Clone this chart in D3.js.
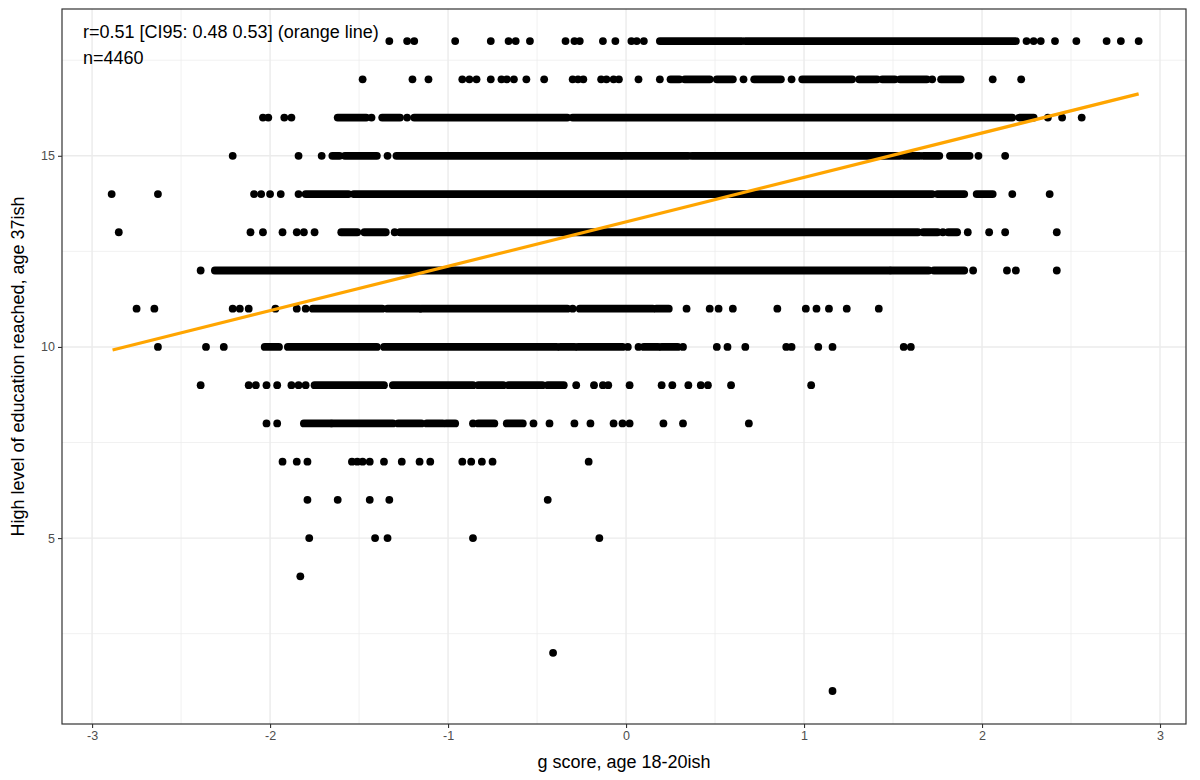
<!DOCTYPE html>
<html><head><meta charset="utf-8">
<script src="https://cdn.jsdelivr.net/npm/d3@7/dist/d3.min.js"></script>
<style>body{margin:0;background:#fff} svg{display:block}</style>
</head><body>
<svg id="chart" width="1200" height="780"></svg>
<script>
// ---- data: g score (x) of individual points, per education level (y) ----
// isolated points
const dots18 = [-1.33,-1.23,-1.19,-0.96,-0.76,-0.66,-0.62,-0.54,-0.34,-0.29,-0.26,-0.13,-0.06,0.03,0.06,0.10,2.25,2.29,2.33,2.41,2.53,2.70,2.78,2.88];
const dots17 = [-1.48,-1.20,-1.11,-0.92,-0.88,-0.84,-0.76,-0.70,-0.67,-0.63,-0.56,-0.46,-0.30,-0.27,-0.24,-0.14,-0.11,-0.07,-0.04,0.07,0.19,0.66,0.93,1.72,2.06,2.22];
const dots16 = [-2.04,-2.01,-1.92,-1.88,-1.43,-1.23,2.37,2.45,2.56];
const dots15 = [-2.21,-1.84,-1.71,-1.34,1.98,2.13];
const dots14 = [-2.89,-2.63,-2.09,-2.05,-2.00,-1.94,-1.84,2.17,2.38];
const dots13 = [-2.85,-2.11,-2.04,-1.93,-1.85,-1.81,-1.75,-1.30,1.78,1.92,2.04,2.13,2.42];
const dots12 = [-2.39,1.95,2.14,2.19,2.42];
const dots11 = [-2.75,-2.65,-2.21,-2.17,-2.12,-1.97,-1.85,-1.80,-0.30,0.34,0.47,0.52,0.60,0.85,1.01,1.07,1.14,1.24,1.42];
const dots10 = [-2.63,-2.36,-2.26,0.01,0.07,0.32,0.51,0.57,0.67,0.90,0.93,1.08,1.16,1.56,1.60];
const dots9  = [-2.39,-2.12,-2.08,-2.02,-1.96,-1.88,-1.84,-1.80,-0.28,-0.18,-0.13,-0.10,0.02,0.20,0.26,0.35,0.42,0.46,0.59,1.04];
const dots8  = [-2.02,-1.96,-0.86,-0.52,-0.43,-0.29,-0.20,-0.07,-0.02,0.02,0.21,0.32,0.69];
const dots7  = [-1.93,-1.85,-1.79,-1.54,-1.51,-1.48,-1.44,-1.36,-1.26,-1.16,-1.10,-0.92,-0.87,-0.81,-0.75,-0.21];
const dots6  = [-1.79,-1.62,-1.44,-1.33,-0.44];
const dots5  = [-1.78,-1.41,-1.34,-0.86,-0.15];
const dots4  = [-1.83];
const dots2  = [-0.41];
const dots1  = [1.16];
// runs of overlapping points (from, to)
const runs18 = [[0.19,0.65],[0.67,2.19]];
const runs17 = [[0.25,0.30],[0.33,0.47],[0.51,0.60],[0.72,0.87],[0.99,1.27],[1.31,1.41],[1.44,1.51],[1.54,1.69],[1.77,1.88]];
const runs16 = [[-1.62,-1.46],[-1.37,-1.27],[-1.19,-0.33],[-0.30,2.17],[2.21,2.29]];
const runs15 = [[-1.65,-1.61],[-1.58,-1.40],[-1.29,-0.03],[-0.02,0.35],[0.37,1.54],[1.56,1.65],[1.67,1.76],[1.82,1.93]];
const runs14 = [[-1.80,-1.56],[-1.53,1.72],[1.75,1.90],[1.97,2.06]];
const runs13 = [[-1.60,-1.51],[-1.47,-1.35],[-1.27,1.64],[1.67,1.75],[1.81,1.86]];
const runs12 = [[-2.31,1.48],[1.49,1.70],[1.73,1.90]];
const runs11 = [[-1.76,-1.37],[-1.34,-1.16],[-1.15,-0.33],[-0.26,0.15],[0.17,0.24]];
const runs10 = [[-2.03,-1.95],[-1.90,-1.40],[-1.36,-0.39],[-0.37,-0.29],[-0.27,-0.02],[0.10,0.18],[0.20,0.29]];
const runs9  = [[-1.75,-1.36],[-1.31,-0.86],[-0.83,-0.69],[-0.66,-0.47],[-0.44,-0.35]];
const runs8  = [[-1.81,-1.66],[-1.65,-1.31],[-1.28,-1.15],[-1.12,-1.03],[-1.01,-0.96],[-0.83,-0.74],[-0.67,-0.58]];

const fitX = [-2.885, 2.88];
const fitY = [9.92, 16.62];
const xTicks = [-3,-2,-1,0,1,2,3];
const xMinor = [-2.5,-1.5,-0.5,0.5,1.5,2.5];
const yTicks = [5,10,15];
const yMinor = [2.5,7.5,12.5,17.5];
const annotation = ["r=0.51 [CI95: 0.48 0.53] (orange line)", "n=4460"];
const xTitle = "g score, age 18-20ish";
const yTitle = "High level of education reached, age 37ish";

// ---- assemble ----
const dotsByLevel = {18:dots18,17:dots17,16:dots16,15:dots15,14:dots14,13:dots13,12:dots12,11:dots11,10:dots10,9:dots9,8:dots8,7:dots7,6:dots6,5:dots5,4:dots4,2:dots2,1:dots1};
const runsByLevel = {18:runs18,17:runs17,16:runs16,15:runs15,14:runs14,13:runs13,12:runs12,11:runs11,10:runs10,9:runs9,8:runs8};
const points = [];
Object.entries(dotsByLevel).forEach(([lvl, xs]) => xs.forEach(x => points.push({x, y:+lvl})));
const runs = [];
Object.entries(runsByLevel).forEach(([lvl, rs]) => rs.forEach(r => runs.push({x0:r[0], x1:r[1], y:+lvl})));

const L = 62, R = 1186, T = 9, B = 724;
const x = d3.scaleLinear().domain([-3.169, 3.146]).range([L, R]);
const y = d3.scaleLinear().domain([0.137, 18.84]).range([B, T]);
const svg = d3.select("#chart");
const font = "'Liberation Sans', Arial, Helvetica, sans-serif";
const rad = 3.9;

// grid
const g = svg.append("g");
g.selectAll(".vmin").data(xMinor).join("line").attr("x1", d=>x(d)).attr("x2", d=>x(d)).attr("y1", T).attr("y2", B).attr("stroke", "#ebebeb").attr("stroke-width", 0.7);
g.selectAll(".hmin").data(yMinor).join("line").attr("y1", d=>y(d)).attr("y2", d=>y(d)).attr("x1", L).attr("x2", R).attr("stroke", "#ebebeb").attr("stroke-width", 0.7);
g.selectAll(".vmaj").data(xTicks).join("line").attr("x1", d=>x(d)).attr("x2", d=>x(d)).attr("y1", T).attr("y2", B).attr("stroke", "#ebebeb").attr("stroke-width", 1.4);
g.selectAll(".hmaj").data(yTicks).join("line").attr("y1", d=>y(d)).attr("y2", d=>y(d)).attr("x1", L).attr("x2", R).attr("stroke", "#ebebeb").attr("stroke-width", 1.4);

// runs and points
svg.append("g").selectAll("line").data(runs).join("line")
  .attr("x1", d=>x(d.x0)).attr("x2", d=>x(d.x1)).attr("y1", d=>y(d.y)).attr("y2", d=>y(d.y))
  .attr("stroke", "#000").attr("stroke-width", rad*2).attr("stroke-linecap", "round");
svg.append("g").selectAll("circle").data(points).join("circle")
  .attr("cx", d=>x(d.x)).attr("cy", d=>y(d.y)).attr("r", rad).attr("fill", "#000");

// fit line
svg.append("line").attr("x1", x(fitX[0])).attr("x2", x(fitX[1])).attr("y1", y(fitY[0])).attr("y2", y(fitY[1]))
  .attr("stroke", "orange").attr("stroke-width", 3.2);

// annotation
svg.append("g").selectAll("text").data(annotation).join("text")
  .attr("x", 83).attr("y", (d,i)=>38 + i*26).text(d=>d)
  .attr("font-family", font).attr("font-size", 18).attr("fill", "#000");

// border
svg.append("rect").attr("x", L).attr("y", T).attr("width", R-L).attr("height", B-T)
  .attr("fill", "none").attr("stroke", "#333").attr("stroke-width", 1.2);

// axes
const xAxis = d3.axisBottom(x).tickValues(xTicks).tickSize(4).tickPadding(3).tickFormat(d3.format("d"));
const yAxis = d3.axisLeft(y).tickValues(yTicks).tickSize(4).tickPadding(3).tickFormat(d3.format("d"));
const gx = svg.append("g").attr("transform", `translate(0,${B})`).call(xAxis);
const gy = svg.append("g").attr("transform", `translate(${L},0)`).call(yAxis);
[gx, gy].forEach(a => {
  a.select(".domain").remove();
  a.selectAll(".tick line").attr("stroke", "#333").attr("stroke-width", 1.1);
  a.selectAll(".tick text").attr("font-family", font).attr("font-size", 12.5).attr("fill", "#4d4d4d");
});
gx.selectAll(".tick text").text(d => d < 0 ? "-" + Math.abs(d) : d);

svg.append("text").attr("x", (L+R)/2).attr("y", 768).attr("text-anchor", "middle")
  .attr("font-family", font).attr("font-size", 18).attr("fill", "#000").text(xTitle);
svg.append("text").attr("transform", `translate(24,${(T+B)/2}) rotate(-90)`).attr("text-anchor", "middle")
  .attr("font-family", font).attr("font-size", 18).attr("fill", "#000").text(yTitle);
</script>
</body></html>
